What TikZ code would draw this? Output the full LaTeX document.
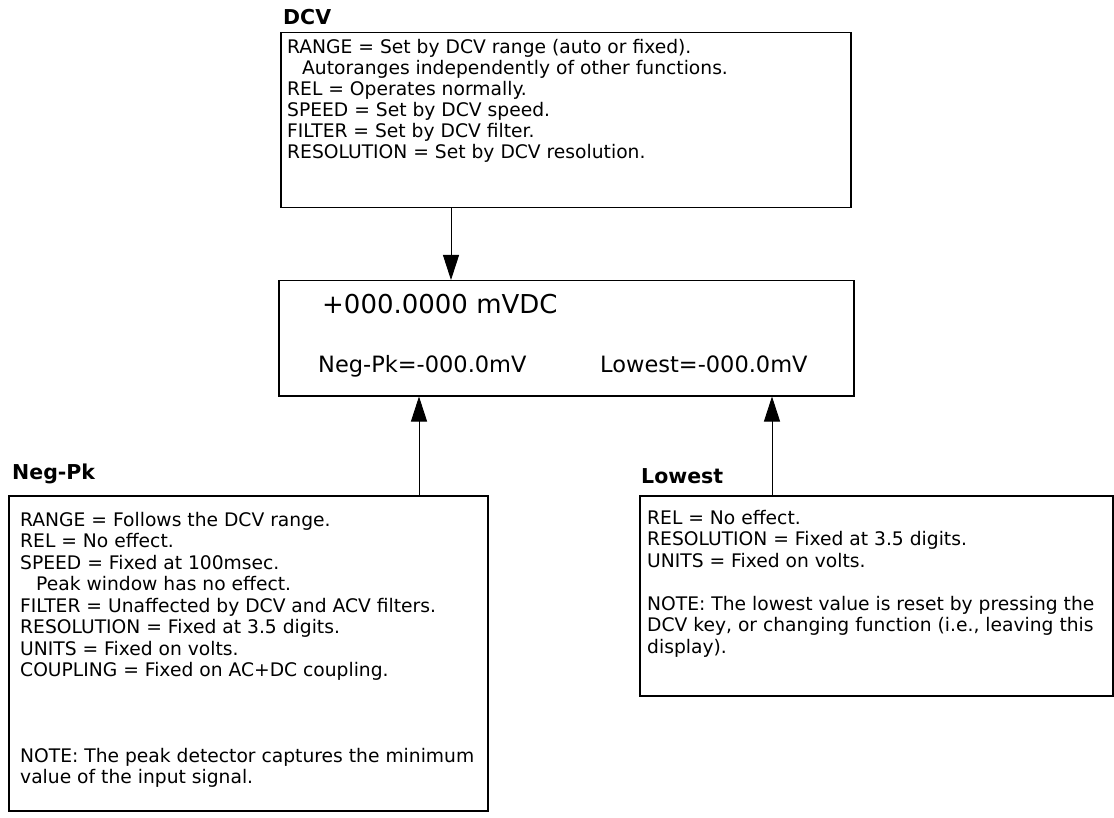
\documentclass[tikz,border=0pt]{standalone}
\usepackage{fontspec}
\setmainfont{DejaVu Sans}
\usetikzlibrary{arrows.meta}
\begin{document}
\begin{tikzpicture}[x=1pt,y=-1pt,
  box/.style={draw, line width=1.5pt, anchor=north west, inner sep=0pt},
  txt/.style={anchor=base west, align=left, inner sep=0pt, font=\fontsize{18.7}{21.5}\selectfont},
  ttl/.style={anchor=base west, inner sep=0pt, font=\fontsize{20.5}{24}\selectfont\bfseries},
  disp/.style={anchor=base west, inner sep=0pt, font=\fontsize{22.5}{24}\selectfont},
  arr/.style={line width=0.9pt, -{Triangle[length=25pt,width=16pt]}}]
\useasboundingbox (0,0) rectangle (1114,818);
% DCV
\node[ttl] (tdcv) at (283,25) {DCV};
\node[box, minimum width=570pt, minimum height=175pt] (dcv) at (280,32) {};
\node[txt, font=\fontsize{18.7}{21}\selectfont] (xdcv) at (287,159) {RANGE = Set by DCV range (auto or fixed).\\
\hspace*{15pt}Autoranges independently of other functions.\\
REL = Operates normally.\\
SPEED = Set by DCV speed.\\
FILTER = Set by DCV filter.\\
RESOLUTION = Set by DCV resolution.};
% display
\node[box, minimum width=575pt, minimum height=115pt] (disp) at (278,280) {};
\node[disp, font=\fontsize{26}{28}\selectfont] (d1) at (322,314) {+000.0000 mVDC};
\node[disp] (d2) at (318,372) {Neg-Pk=-000.0mV};
\node[disp] (d3) at (600,372) {Lowest=-000.0mV};
% Neg-Pk
\node[ttl] (tneg) at (12,479) {Neg-Pk};
\node[box, minimum width=479pt, minimum height=315pt] (neg) at (8,495) {};
\node[txt] (xneg) at (20,783.5) {RANGE = Follows the DCV range.\\
REL = No effect.\\
SPEED = Fixed at 100msec.\\
\hspace*{16pt}Peak window has no effect.\\
FILTER = Unaffected by DCV and ACV filters.\\
RESOLUTION = Fixed at 3.5 digits.\\
UNITS = Fixed on volts.\\
COUPLING = Fixed on AC+DC coupling.\\[64pt]
NOTE: The peak detector captures the minimum\\
value of the input signal.};
% Lowest
\node[ttl] (tlow) at (641,483) {Lowest};
\node[box, minimum width=473pt, minimum height=200pt] (low) at (639,495) {};
\node[txt] (xlow) at (647,653) {REL = No effect.\\
RESOLUTION = Fixed at 3.5 digits.\\
UNITS = Fixed on volts.\\[21.5pt]
NOTE: The lowest value is reset by pressing the\\
DCV key, or changing function (i.e., leaving this\\
display).};
% connectors
\coordinate (ca) at (451,0);
\coordinate (cb) at (419,0);
\coordinate (cc) at (772,0);
\draw[arr] (dcv.south -| ca) -- (disp.north -| ca);
\draw[arr] (neg.north -| cb) -- (disp.south -| cb);
\draw[arr] (low.north -| cc) -- (disp.south -| cc);
\end{tikzpicture}
\end{document}
